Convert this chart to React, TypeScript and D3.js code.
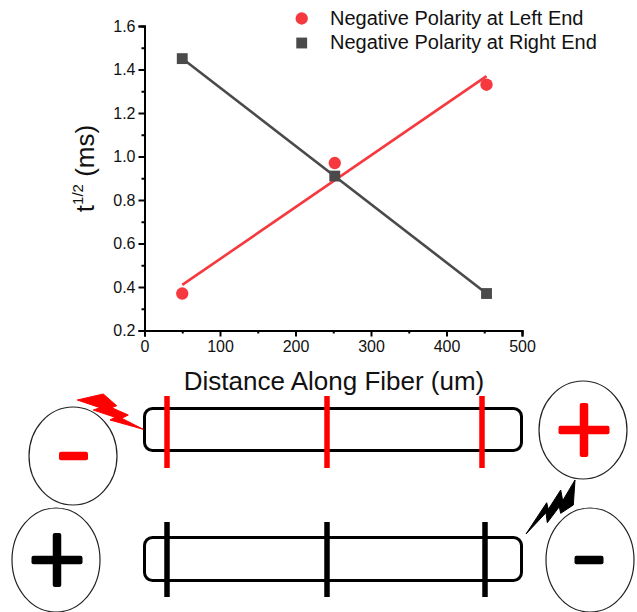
import { useEffect, useRef } from "react";
import * as d3 from "d3";

const distance = [50, 252, 453];
const negativeLeft = [0.37, 0.97, 1.33];
const negativeRight = [1.45, 0.91, 0.37];
const legendLabels = ["Negative Polarity at Left End", "Negative Polarity at Right End"];
const xTicks = [0, 100, 200, 300, 400, 500];
const xMinor = [50, 150, 250, 350, 450];
const yTicks = [0.2, 0.4, 0.6, 0.8, 1.0, 1.2, 1.4, 1.6];
const yMinor = [0.3, 0.5, 0.7, 0.9, 1.1, 1.3, 1.5];

const RED = "#f5393f";
const GREY = "#4a4a4a";
const FONT = "'Liberation Sans', Arial, sans-serif";

const width = 637;
const height = 612;

// least squares line through the points
function fit(xs: number[], ys: number[]) {
  const mx = d3.mean(xs) as number;
  const my = d3.mean(ys) as number;
  const slope =
    (d3.sum(xs, (x, i) => (x - mx) * (ys[i] - my)) as number) /
    (d3.sum(xs, (x) => (x - mx) ** 2) as number);
  return (x: number) => my + slope * (x - mx);
}

// fibre schematic
const fibres = [
  { x: 144.5, y: 408.5, w: 377, h: 42, tickColor: "#ff0000", ticks: [167, 327, 482], y0: 396, y1: 468 },
  { x: 144.5, y: 537.5, w: 377, h: 43, tickColor: "#000000", ticks: [167, 327, 485], y0: 522, y1: 597 },
];
const electrodes = [
  { cx: 73, cy: 456, rx: 44, ry: 49 },
  { cx: 56, cy: 560, rx: 44, ry: 52 },
  { cx: 583, cy: 430, rx: 44, ry: 49 },
  { cx: 590, cy: 560, rx: 44, ry: 52 },
];
const signs = [
  { cx: 73.5, cy: 456, color: "#ff0000", plus: false },
  { cx: 57, cy: 560, color: "#000000", plus: true },
  { cx: 584, cy: 430, color: "#ff0000", plus: true },
  { cx: 589, cy: 560, color: "#000000", plus: false },
];
const redBolt: [number, number][] = [
  [77.3, 400], [103.3, 394], [116.7, 405.7], [111.7, 407.7], [128.3, 415], [121.7, 418.3],
  [143.3, 429.3], [110, 420], [115, 417.3], [93.3, 410], [100, 407.7],
];
const blackBolt: [number, number][] = [
  [526, 534], [546.7, 502.7], [548.3, 509.3], [560.7, 490], [562.7, 500.7], [575, 480],
  [573.3, 505], [560.7, 513.3], [559.3, 506.7], [547.3, 522.7], [546, 512.7],
];

export default function App() {
  const ref = useRef<SVGSVGElement>(null);

  useEffect(() => {
    const svg = d3.select(ref.current);
    svg.selectAll("*").remove();

    const x = d3.scaleLinear().domain([0, 500]).range([144.5, 522]);
    const y = d3.scaleLinear().domain([0.2, 1.6]).range([330.5, 26]);
    const chart = svg.append("g").attr("font-family", FONT);

    const drawAxis = (axis: d3.Axis<d3.NumberValue>, translate: string) =>
      chart
        .append("g")
        .attr("transform", translate)
        .call(axis)
        .call((g) => g.selectAll("path,line").attr("stroke", "#000").attr("stroke-width", 2))
        .call((g) => g.selectAll("text").attr("fill", "#111").attr("font-size", 16).attr("font-family", FONT));

    drawAxis(d3.axisBottom(x).tickValues(xMinor).tickSize(3).tickFormat(() => ""), "translate(0,330.5)");
    drawAxis(d3.axisLeft(y).tickValues(yMinor).tickSize(3).tickFormat(() => ""), "translate(144.5,0)");
    drawAxis(d3.axisBottom(x).tickValues(xTicks).tickSize(6).tickPadding(4).tickFormat(d3.format("d")), "translate(0,330.5)");
    drawAxis(d3.axisLeft(y).tickValues(yTicks).tickSize(6).tickPadding(3).tickFormat(d3.format(".1f")), "translate(144.5,0)");

    chart
      .append("text")
      .attr("x", 334)
      .attr("y", 390)
      .attr("text-anchor", "middle")
      .attr("font-size", 26)
      .attr("fill", "#111")
      .text("Distance Along Fiber (um)");

    const yLabel = chart
      .append("text")
      .attr("transform", "translate(94,168.5) rotate(-90)")
      .attr("text-anchor", "middle")
      .attr("font-size", 26)
      .attr("fill", "#111");
    yLabel.append("tspan").text("t");
    yLabel.append("tspan").attr("font-size", 15).attr("dy", -11).text("1/2");
    yLabel.append("tspan").attr("dy", 11).text(" (ms)");

    const series = [
      { values: negativeLeft, color: RED, symbol: d3.symbolCircle, size: 120 },
      { values: negativeRight, color: GREY, symbol: d3.symbolSquare, size: 118 },
    ];

    series.forEach((s) => {
      const line = fit(distance, s.values);
      const ends = [distance[0], distance[distance.length - 1]];
      chart
        .append("path")
        .attr("d", d3.line<number>().x((d) => x(d)).y((d) => y(line(d)))(ends))
        .attr("fill", "none")
        .attr("stroke", s.color)
        .attr("stroke-width", 2.6);
    });

    series.forEach((s) => {
      chart
        .append("g")
        .selectAll("path")
        .data(s.values)
        .join("path")
        .attr("d", d3.symbol().type(s.symbol).size(s.size))
        .attr("transform", (d, i) => `translate(${x(distance[i])},${y(d)})`)
        .attr("fill", s.color);
    });

    // legend
    series.forEach((s, i) => {
      const ly = 18.5 + i * 24.5;
      chart
        .append("path")
        .attr("d", d3.symbol().type(s.symbol).size(s.size))
        .attr("transform", `translate(301.7,${ly})`)
        .attr("fill", s.color);
      chart
        .append("text")
        .attr("x", 330)
        .attr("y", ly + 6)
        .attr("font-size", 20)
        .attr("fill", "#111")
        .text(legendLabels[i]);
    });

    // schematic
    const diagram = svg.append("g");
    fibres.forEach((f) => {
      diagram
        .append("rect")
        .attr("x", f.x)
        .attr("y", f.y)
        .attr("width", f.w)
        .attr("height", f.h)
        .attr("rx", 8)
        .attr("fill", "none")
        .attr("stroke", "#000")
        .attr("stroke-width", 3);
      f.ticks.forEach((t) => {
        diagram
          .append("line")
          .attr("x1", t)
          .attr("x2", t)
          .attr("y1", f.y0)
          .attr("y2", f.y1)
          .attr("stroke", f.tickColor)
          .attr("stroke-width", 5.5);
      });
    });

    electrodes.forEach((e) => {
      diagram
        .append("ellipse")
        .attr("cx", e.cx)
        .attr("cy", e.cy)
        .attr("rx", e.rx)
        .attr("ry", e.ry)
        .attr("fill", "none")
        .attr("stroke", "#222")
        .attr("stroke-width", 1.2);
    });

    signs.forEach((s) => {
      const bar = (w: number, h: number) =>
        diagram
          .append("rect")
          .attr("x", s.cx - w / 2)
          .attr("y", s.cy - h / 2)
          .attr("width", w)
          .attr("height", h)
          .attr("rx", 2)
          .attr("fill", s.color);
      bar(s.plus ? 51 : 29, 8.5);
      if (s.plus) bar(8.5, 54);
    });

    const bolt = d3.line();
    diagram.append("path").attr("d", bolt(redBolt) + "Z").attr("fill", "#ff0000").attr("stroke", "#ff0000").attr("stroke-width", 1);
    diagram.append("path").attr("d", bolt(blackBolt) + "Z").attr("fill", "#000").attr("stroke", "#000").attr("stroke-width", 1);
  }, []);

  return (
    <svg
      ref={ref}
      width={width}
      height={height}
      style={{ position: "absolute", left: 0, top: 0, background: "#fff" }}
    />
  );
}
